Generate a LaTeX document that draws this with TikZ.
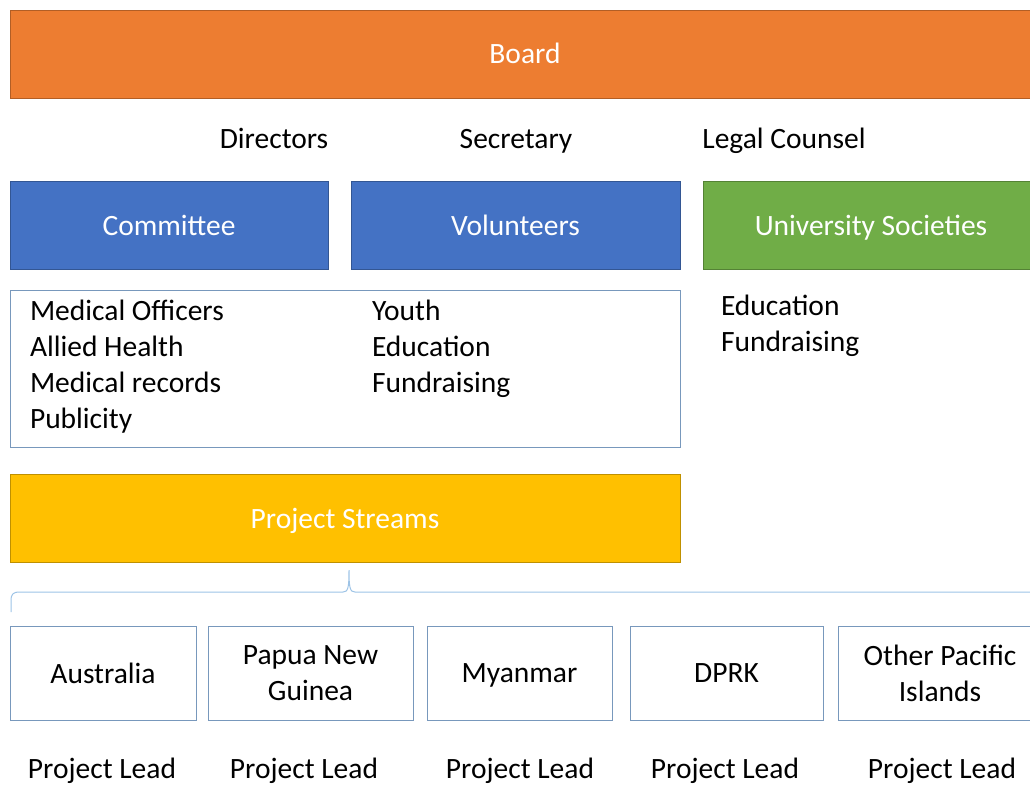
\documentclass[tikz,border=0pt]{standalone}
\usepackage{fontspec}
\setmainfont{Carlito}
\usetikzlibrary{positioning}
\definecolor{boardorange}{RGB}{237,125,49}
\definecolor{teamblue}{RGB}{68,114,196}
\definecolor{unigreen}{RGB}{112,173,71}
\definecolor{streamgold}{RGB}{255,192,0}
\definecolor{lineblue}{RGB}{120,152,188}
\definecolor{braceblue}{RGB}{157,195,230}

\begin{document}
\begin{tikzpicture}[x=1pt,y=-1pt,
  every node/.style={font=\fontsize{29.5}{36}\selectfont, inner sep=0pt, outer sep=0pt},
  bar/.style={draw=#1!75!black, fill=#1, text=white, anchor=north west, minimum height=88pt, text depth=0pt},
  country/.style={draw=lineblue, fill=white, anchor=north west, minimum height=94pt, align=center},
  item/.style={anchor=base west},
  lead/.style={anchor=base}]
\useasboundingbox (0,0) rectangle (1030,785);
{
% top row
\node [bar=boardorange, minimum width=1030pt] (board) at (10,10) {};
\node at (525,53) {\textcolor{white}{Board}};

\node [lead] (directors) at (274,148) {Directors};
\node [lead] (secretary) at (516,148) {Secretary};
\node [lead] (counsel) at (784,148) {Legal Counsel};

% teams
\node [bar=teamblue, minimum width=318pt] (committee) at (10,181) {Committee};
\node [bar=teamblue, minimum width=329pt] (volunteers) at (351,181) {Volunteers};
\node [bar=unigreen, minimum width=340pt] (societies) at (703,181) {};
\node [text=white, text depth=0pt] at (871,225) {University Societies};

\draw [lineblue] (10,290) rectangle (680,447);
\node [item] (officers) at (30,320) {Medical Officers};
\node [item] (allied) at (30,356) {Allied Health};
\node [item] (records) at (30,392) {Medical records};
\node [item] (publicity) at (30,428) {Publicity};
\node [item] (youth) at (372,320) {Youth};
\node [item] (education) at (372,356) {Education};
\node [item] (fundraising) at (372,392) {Fundraising};

\node [item] (unieducation) at (721,315) {Education};
\node [item] (unifunds) at (721,351) {Fundraising};

% streams
\node [bar=streamgold, minimum width=670pt] (streams) at (10,474) {Project Streams};

\draw [braceblue, line width=1pt] (11,612) -- (11,601)
  .. controls (11,594) and (13,592) .. (20,592) -- (343,592)
  .. controls (348,592) and (349,588) .. (349,570)
  .. controls (349,588) and (350,592) .. (355,592) -- (1030,592);

\node [country, minimum width=186pt] (australia) at (10,626) {Australia};
\node [country, minimum width=205pt] (png) at (208,626) {Papua New\\Guinea};
\node [country, minimum width=185pt, text depth=0pt] (myanmar) at (427,626) {Myanmar};
\node [country, minimum width=193pt] (dprk) at (630,626) {DPRK};
\node [country, minimum width=200pt] (pacific) at (838,626) {};
\node [align=center] at (940,673) {Other Pacific\\Islands};

\node [lead] (leadaus) at (102,778) {Project Lead};
\node [lead] (leadpng) at (304,778) {Project Lead};
\node [lead] (leadmya) at (520,778) {Project Lead};
\node [lead] (leaddprk) at (725,778) {Project Lead};
\node [lead] (leadpac) at (942,778) {Project Lead};
}
\end{tikzpicture}
\end{document}
